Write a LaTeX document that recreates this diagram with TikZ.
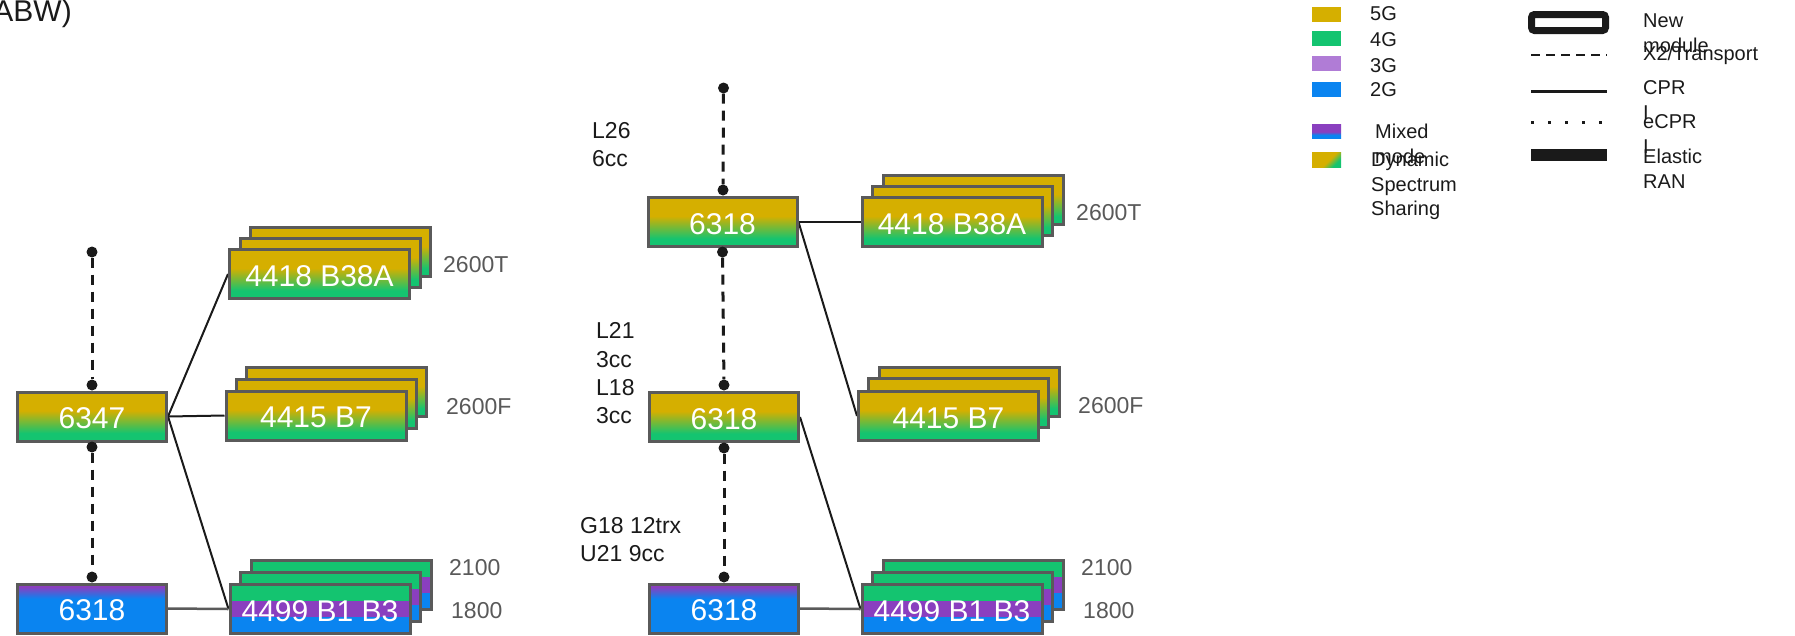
\documentclass[tikz,border=0pt]{standalone}
\usepackage{fontspec}
\setmainfont{Liberation Sans}
\usetikzlibrary{calc}
\definecolor{gold5g}{HTML}{D5AF00}
\definecolor{green4g}{HTML}{14C470}
\definecolor{lilac3g}{HTML}{B07CD6}
\definecolor{blue2g}{HTML}{0A84F0}
\definecolor{mixpurple}{HTML}{8A3FBF}
\definecolor{boxgray}{HTML}{5A5A5A}
\definecolor{labgray}{HTML}{595959}
\definecolor{ink}{HTML}{1A1A1A}
\pgfdeclareverticalshading{fivefour}{100bp}{color(0bp)=(green4g); color(33bp)=(green4g); color(56bp)=(gold5g); color(100bp)=(gold5g)}
\pgfdeclareverticalshading{mixed}{100bp}{color(0bp)=(blue2g); color(60bp)=(blue2g); color(72bp)=(mixpurple); color(100bp)=(mixpurple)}
\pgfdeclareverticalshading{mixleg}{100bp}{color(0bp)=(blue2g); color(36bp)=(blue2g); color(47bp)=(mixpurple); color(100bp)=(mixpurple)}
\pgfdeclarehorizontalshading{dss}{100bp}{color(0bp)=(gold5g); color(55bp)=(gold5g); color(72bp)=(green4g); color(100bp)=(green4g)}
\pgfdeclarelayer{bg}
\pgfsetlayers{bg,main}
\tikzset{
  base/.style={draw=boxgray, line width=3pt, inner sep=0pt, minimum height=49pt,
    text=white, font=\fontsize{30}{36}\selectfont, text height=24.5pt, text depth=0pt},
  ctlw/.style={minimum width=149pt},
  modlw/.style={minimum width=180pt},
  dssbox/.style={base, shade, shading=fivefour},
  mixbox/.style={base, shade, shading=mixed},
  tribox/.style={base, path picture={
    \fill[green4g] (path picture bounding box.north west) rectangle
      ($(path picture bounding box.north east)!0.34!(path picture bounding box.south east)$);
    \fill[mixpurple] ($(path picture bounding box.north west)!0.34!(path picture bounding box.south west)$) rectangle
      ($(path picture bounding box.north east)!0.67!(path picture bounding box.south east)$);
    \fill[blue2g] ($(path picture bounding box.north west)!0.67!(path picture bounding box.south west)$) rectangle
      (path picture bounding box.south east);}},
  dot/.style={circle, fill=ink, inner sep=0pt, minimum size=11pt},
  cpri/.style={line width=2pt, draw=ink},
  grayline/.style={line width=2.5pt, draw=boxgray},
  x2/.style={line width=3pt, draw=ink, dash pattern=on 10pt off 7pt},
  lab/.style={text=labgray, font=\fontsize{23}{28}\selectfont, anchor=west, inner sep=0pt},
  note/.style={text=ink, font=\fontsize{23}{28.3}\selectfont, align=left, anchor=west, inner sep=0pt},
  leg/.style={text=ink, font=\fontsize{20}{24.5}\selectfont, align=left, anchor=west, inner sep=0pt},
}
\begin{document}
\begin{tikzpicture}[x=1pt, y=-1pt]
\useasboundingbox (0,0) rectangle (1795,635);

% title
\node[font=\fontsize{30}{36}\selectfont, text=ink, anchor=east, inner sep=0pt] (title) at (72,14) {ABW)};

% ---------- left site ----------
\node[dssbox, ctlw] (a6347) at (92,416.5) {6347};
\node[mixbox, ctlw] (a6318) at (92,608.5) {6318};

\node[dssbox, modlw] (L4418c) at (340.5,252) {};
\node[dssbox, modlw] (L4418b) at (330,263) {};
\node[dssbox, modlw] (L4418) at (319.5,274) {4418 B38A};

\node[dssbox, modlw] (L4415c) at (336.5,392) {};
\node[dssbox, modlw] (L4415b) at (326,404) {};
\node[dssbox, modlw] (L4415) at (316,415.5) {4415 B7};

\node[tribox, modlw] (L4499c) at (341,585) {};
\node[tribox, modlw] (L4499b) at (330.5,597) {};
\node[tribox, modlw] (L4499) at (320,609) {4499 B1 B3};

\node[dot] (dL1) at (92,252) {};
\node[dot] (dL2) at (92,385) {};
\node[dot] (dL3) at (92,447) {};
\node[dot] (dL4) at (92,577) {};

\node[lab] (t1) at (443,265) {2600T};
\node[lab] (t2) at (446,407) {2600F};
\node[lab] (t3) at (449,568) {2100};
\node[lab] (t4) at (451,611) {1800};

% ---------- right site ----------
\node[dssbox, ctlw] (b6318a) at (722.5,222) {6318};
\node[dssbox, ctlw] (b6318b) at (724,417) {6318};
\node[mixbox, ctlw] (b6318c) at (724,608.5) {6318};

\node[dssbox, modlw] (R4418c) at (973,200) {};
\node[dssbox, modlw] (R4418b) at (962.5,211) {};
\node[dssbox, modlw] (R4418) at (952,222) {4418 B38A};

\node[dssbox, modlw] (R4415c) at (969,392) {};
\node[dssbox, modlw] (R4415b) at (958.5,403) {};
\node[dssbox, modlw] (R4415) at (948.5,416) {4415 B7};

\node[tribox, modlw] (R4499c) at (973,585) {};
\node[tribox, modlw] (R4499b) at (962.5,597) {};
\node[tribox, modlw] (R4499) at (952,609) {4499 B1 B3};

\node[dot] (dR1) at (723.5,88) {};
\node[dot] (dR2) at (723,190) {};
\node[dot] (dR3) at (722.5,252) {};
\node[dot] (dR4) at (724,385) {};
\node[dot] (dR5) at (724,448) {};
\node[dot] (dR6) at (724,577) {};

\node[note] (n1) at (592,144.5) {L26\\6cc};
\node[note] (n2) at (596,373.5) {L21\\3cc\\L18\\3cc};
\node[note] (n3) at (580,539.5) {G18 12trx\\U21 9cc};

\node[lab] (t5) at (1076,213) {2600T};
\node[lab] (t6) at (1078,406) {2600F};
\node[lab] (t7) at (1081,568) {2100};
\node[lab] (t8) at (1083,611) {1800};

% ---------- connectors ----------
\begin{pgfonlayer}{bg}
\draw[x2] (dL1) -- (dL2);
\draw[x2] (dL3) -- (dL4);
\draw[x2] (dR1) -- (dR2);
\draw[x2] (dR3) -- (dR4);
\draw[x2] (dR5) -- (dR6);
\draw[cpri] (a6347.east) -- (L4418.west);
\draw[cpri] (a6347.east) -- (L4415.west);
\draw[cpri] (a6347.east) -- (L4499.west);
\draw[grayline] (a6318.east) -- (L4499.west);
\draw[cpri] (b6318a.east) -- (R4418.west);
\draw[cpri] (b6318a.east) -- (R4415.west);
\draw[cpri] (b6318b.east) -- (R4499.west);
\draw[grayline] (b6318c.east) -- (R4499.west);
\end{pgfonlayer}

% ---------- legend ----------
\fill[gold5g] (1312,7) rectangle (1341,22);
\fill[green4g] (1312,31) rectangle (1341,46);
\fill[lilac3g] (1312,56) rectangle (1341,71);
\fill[blue2g] (1312,82) rectangle (1341,97);
\shade[shading=mixleg] (1312,124) rectangle (1341,138);
\shade[shading=dss, shading angle=-45] (1312,152) rectangle (1341,167);
\node[leg] (g5) at (1370,14) {5G};
\node[leg] (g4) at (1370,40) {4G};
\node[leg] (g3) at (1370,66) {3G};
\node[leg] (g2) at (1370,90) {2G};
\node[leg] (gm) at (1375,144) {Mixed\\mode};
\node[leg] (gd) at (1371,186) {Dynamic\\Spectrum\\Sharing};

\draw[line width=7pt, rounded corners=3pt, draw=ink] (1531.5,14.5) rectangle (1605.5,30.5);
\draw[line width=2.5pt, draw=ink, dash pattern=on 9pt off 6pt] (1531,55) -- (1607,55);
\draw[line width=3pt, draw=ink] (1531,91) -- (1607,91);
\draw[line width=3pt, draw=ink, dash pattern=on 3pt off 14pt] (1531,122) -- (1607,122);
\fill[ink] (1531,149) rectangle (1607,161);
\node[leg] (l1) at (1643,33) {New\\module};
\node[leg] (l2) at (1643,55) {X2/Transport};
\node[leg] (l3) at (1643,100) {CPR\\I};
\node[leg] (l4) at (1643,134) {eCPR\\I};
\node[leg] (l5) at (1643,168.5) {Elastic\\RAN};
\end{tikzpicture}
\end{document}
